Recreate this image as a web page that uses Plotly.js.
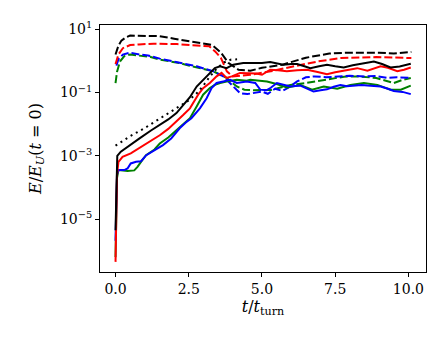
<!DOCTYPE html>
<html><head><meta charset="utf-8">
<script src="https://cdn.plot.ly/plotly-3.0.1.min.js"></script>
<style>body{margin:0;background:#fff}#c{width:448px;height:351px}</style>
</head><body><div id="c"></div>
<script>
// time axis values (t / t_turn) and log10(E/E_U(t=0))
const tBlackSolid = [0,0.06,0.18,0.5,0.82,1.21,1.51,1.8,2.08,2.3,2.54,2.77,2.99,3.22,3.39,3.57,3.79,4.02,4.36,4.77,5.0,5.28,5.5,5.73,6.0,6.2,6.45,6.65,6.95,7.22,7.5,7.79,8.1,8.36,8.6,8.82,9.1,9.39,9.7,9.9,10.08];
const logBlackSolid = [-5.35,-3.0,-2.87,-2.65,-2.45,-2.2,-2.03,-1.85,-1.65,-1.42,-1.15,-0.81,-0.6,-0.38,-0.23,-0.17,-0.23,-0.12,-0.07,-0.07,-0.07,-0.04,-0.08,-0.12,-0.1,-0.1,-0.17,-0.23,-0.17,-0.12,-0.17,-0.21,-0.14,-0.1,-0.05,-0.02,-0.1,-0.21,-0.18,-0.12,-0.09];

const tRedSolid = [0,0.05,0.1,0.24,0.52,0.82,1.2,1.51,1.8,2.08,2.3,2.54,2.82,2.99,3.22,3.45,3.62,3.79,3.97,4.25,4.59,4.8,5.0,5.28,5.55,5.85,6.2,6.54,6.9,7.22,7.5,7.79,8.0,8.25,8.6,8.8,9.05,9.3,9.62,9.85,10.08];
const logRedSolid = [-6.35,-3.6,-3.19,-3.03,-2.92,-2.75,-2.55,-2.35,-2.15,-1.92,-1.72,-1.5,-1.07,-0.86,-0.7,-0.49,-0.38,-0.54,-0.49,-0.38,-0.38,-0.4,-0.44,-0.28,-0.3,-0.33,-0.3,-0.28,-0.35,-0.42,-0.36,-0.31,-0.27,-0.23,-0.31,-0.25,-0.17,-0.22,-0.33,-0.28,-0.21];

const tBlueSolid = [0,0.05,0.1,0.3,0.41,0.52,0.7,0.87,1.05,1.33,1.62,1.9,2.19,2.4,2.59,2.88,3.11,3.28,3.45,3.68,3.91,4.14,4.48,4.77,4.94,5.15,5.3,5.51,5.75,5.97,6.31,6.55,6.76,7.0,7.22,7.45,7.68,7.9,8.13,8.4,8.6,8.8,9.05,9.3,9.5,9.8,10.08];
const logBlueSolid = [-5.68,-3.6,-3.45,-3.45,-3.4,-3.24,-3.19,-3.17,-2.98,-2.82,-2.66,-2.45,-2.13,-1.95,-1.81,-1.5,-1.18,-0.86,-0.7,-0.65,-0.6,-0.7,-0.65,-0.7,-0.91,-0.93,-0.85,-0.7,-0.75,-0.81,-0.78,-0.88,-0.97,-0.93,-0.9,-0.82,-0.76,-0.8,-0.79,-0.76,-0.78,-0.8,-0.81,-0.88,-0.95,-0.98,-1.05];

const tGreenSolid = [0,0.05,0.1,0.41,0.64,0.75,0.87,1.04,1.33,1.51,1.8,2.08,2.3,2.54,2.77,2.99,3.22,3.39,3.57,3.79,4.14,4.48,4.6,5.17,5.5,5.85,6.31,6.71,7.11,7.57,8.02,8.48,8.94,9.39,9.74,10.08];
const logGreenSolid = [-6.2,-3.7,-3.45,-3.48,-3.46,-3.35,-3.19,-2.98,-2.8,-2.61,-2.42,-2.18,-2.0,-1.81,-1.44,-1.07,-0.86,-0.76,-0.7,-0.65,-0.6,-0.63,-0.6,-0.65,-0.73,-0.84,-0.76,-0.91,-0.81,-0.88,-0.76,-0.7,-0.76,-0.91,-0.91,-0.78];

const tBlackDashed = [0,0.1,0.2,0.35,0.5,1.0,1.5,2.0,2.5,3.0,3.3,3.6,3.85,4.2,4.6,5.0,5.7,6.5,7.3,8.0,9.0,9.5,10.1];
const logBlackDashed = [0.2,0.48,0.64,0.74,0.8,0.8,0.78,0.7,0.63,0.55,0.5,0.26,-0.06,-0.28,-0.31,-0.22,-0.12,0.1,0.23,0.26,0.26,0.23,0.28];

const tRedDashed = [0,0.1,0.25,0.5,0.8,1.3,2.1,2.8,3.2,3.4,3.6,3.8,4.0,4.6,5.3,6.1,6.9,7.7,8.9,10.1];
const logRedDashed = [-0.1,0.2,0.4,0.5,0.52,0.54,0.53,0.49,0.46,0.3,0.09,-0.33,-0.49,-0.44,-0.33,-0.17,-0.02,0.09,0.12,0.09];

const tBlueDashed = [0.03,0.1,0.25,0.5,0.82,1.11,1.51,1.9,2.19,2.5,2.77,3.05,3.34,3.68,4.02,4.25,4.5,4.8,5.0,5.2,5.45,5.7,5.9,6.2,6.5,6.8,7.2,7.6,8.0,8.5,8.9,9.3,9.6,10.08];
const logBlueDashed = [-0.15,0.05,0.2,0.26,0.2,0.17,0.07,0.0,-0.07,-0.12,-0.17,-0.25,-0.33,-0.49,-0.81,-1.02,-1.05,-1.0,-0.97,-1.04,-0.88,-0.95,-0.85,-0.65,-0.52,-0.49,-0.52,-0.49,-0.47,-0.49,-0.48,-0.54,-0.52,-0.54];

const tGreenDashed = [0,0.05,0.15,0.3,0.5,0.82,1.2,1.51,1.9,2.19,2.5,2.88,3.34,3.79,4.14,4.4,4.7,5.0,5.3,5.6,5.97,6.5,7.0,7.4,7.8,8.3,8.9,9.2,9.5,9.8,10.08];
const logGreenDashed = [-0.7,-0.35,-0.02,0.15,0.2,0.16,0.12,0.04,-0.02,-0.07,-0.15,-0.23,-0.33,-0.54,-0.81,-0.91,-0.93,-0.92,-0.92,-0.85,-0.76,-0.7,-0.62,-0.54,-0.5,-0.49,-0.54,-0.62,-0.7,-0.6,-0.54];

const tDotted = [0,0.5,1.0,1.5,2.0,2.5,2.8,3.0,3.2,3.45,3.7,3.95,4.15];
const logDotted = [-2.68,-2.38,-2.12,-1.83,-1.55,-1.25,-1.0,-0.78,-0.52,-0.25,-0.05,0.04,0.05];

const xTickVals = [0,2.5,5,7.5,10];
const xTickText = ['0.0','2.5','5.0','7.5','10.0'];
const yTickVals = [1e1,1e-1,1e-3,1e-5];
const yTickText = ['10<sup>1</sup>','10<sup>−1</sup>','10<sup>−3</sup>','10<sup>−5</sup>'];

const pw = a => a.map(v => Math.pow(10, v));
function tr(x, ly, color, dash) {
  return {x: x, y: pw(ly), mode: 'lines', type: 'scatter', hoverinfo: 'skip',
    line: {color: color, width: 2, dash: dash}};
}
const D = '8px,3px';
const data = [
  tr(tGreenDashed, logGreenDashed, '#008000', D),
  tr(tBlueDashed, logBlueDashed, '#0000ff', D),
  tr(tRedDashed, logRedDashed, '#ff0000', D),
  tr(tBlackDashed, logBlackDashed, '#000000', D),
  tr(tGreenSolid, logGreenSolid, '#008000', 'solid'),
  tr(tBlueSolid, logBlueSolid, '#0000ff', 'solid'),
  tr(tRedSolid, logRedSolid, '#ff0000', 'solid'),
  tr(tBlackSolid, logBlackSolid, '#000000', 'solid'),
  tr(tDotted, logDotted, '#000000', '2px,4px')
];
const tickFont = {family: 'DejaVu Serif, serif', size: 14, color: '#000'};
const titleFont = {family: 'DejaVu Serif, serif', size: 16, color: '#000'};
const layout = {
  width: 448, height: 351, showlegend: false,
  paper_bgcolor: '#fff', plot_bgcolor: '#fff',
  margin: {l: 100, r: 22, t: 25, b: 79},
  xaxis: {range: [-0.53, 10.6], tickvals: xTickVals, ticktext: xTickText,
    ticks: 'outside', ticklen: 4, tickwidth: 1, tickcolor: '#000',
    showline: true, mirror: true, linecolor: '#000', linewidth: 1,
    showgrid: false, zeroline: false, tickfont: tickFont,
    title: {text: '<i>t</i>/<i>t</i><sub>turn</sub>', font: titleFont, standoff: 2}},
  yaxis: {type: 'log', range: [-6.67, 1.133], tickvals: yTickVals, ticktext: yTickText,
    ticks: 'outside', ticklen: 4, tickwidth: 1, tickcolor: '#000',
    showline: true, mirror: true, linecolor: '#000', linewidth: 1,
    showgrid: false, zeroline: false, tickfont: tickFont,
    title: {text: '<i>E</i>/<i>E</i><sub><i>U</i></sub>(<i>t</i> = 0)', font: titleFont, standoff: 14}}
};
Plotly.newPlot('c', data, layout, {staticPlot: true, displayModeBar: false});
</script></body></html>
